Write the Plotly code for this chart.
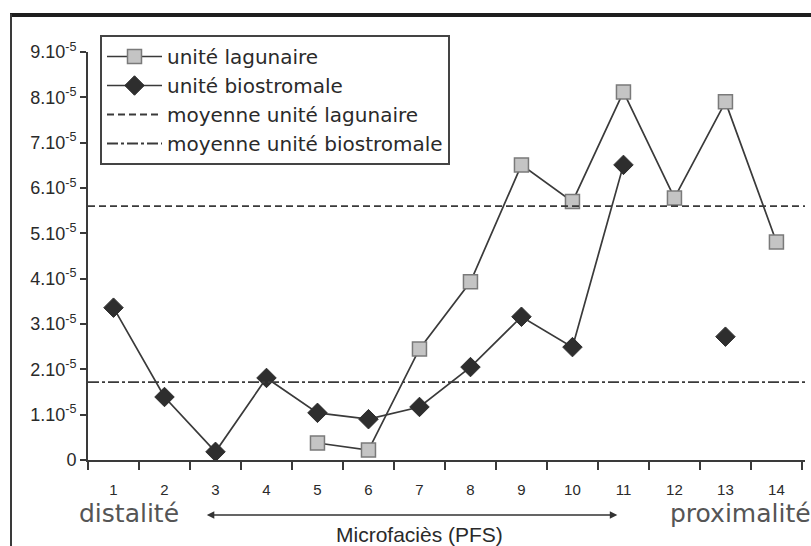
import plotly.graph_objects as go

# ---- data (values in units of 1e-5) ----
microfacies = list(range(1, 15))
lagunaire = [None, None, None, None, 0.375, 0.22, 2.45, 3.93, 6.51, 5.70, 8.12, 5.78, 7.90, 4.81]
biostromale = [3.36, 1.39, 0.18, 1.81, 1.04, 0.90, 1.17, 2.05, 3.16, 2.49, 6.51, None, 2.72, None]
moy_lagunaire = 5.60
moy_biostromale = 1.72
ytick_vals = list(range(0, 10))
ytick_text = ["0"] + [f"{v}.10<sup>-5</sup>" for v in range(1, 10)]

x_range = [0.5, 14.56]
y_range = [0, 9]

LINE = "#3a3a3a"
TXT = "#2a2a2a"
FONT = "Liberation Sans, Arial, sans-serif"
FONT2 = "DejaVu Sans, sans-serif"

fig = go.Figure()
fig.add_trace(go.Scatter(
    x=microfacies, y=lagunaire, name="unité lagunaire", mode="lines+markers",
    line=dict(color=LINE, width=1.7),
    marker=dict(symbol="square", size=14, color="#c4c4c4", line=dict(color="#7a7a7a", width=1.5)),
    legendgroup="a"))
fig.add_trace(go.Scatter(
    x=microfacies, y=biostromale, name="unité biostromale", mode="lines+markers",
    line=dict(color=LINE, width=1.7),
    marker=dict(symbol="diamond", size=15, color="#2e2e2e", line=dict(color="#2e2e2e", width=1)),
    legendgroup="b"))
fig.add_trace(go.Scatter(
    x=x_range, y=[moy_lagunaire] * 2, name="moyenne unité lagunaire", mode="lines",
    line=dict(color=LINE, width=1.8, dash="7px,4px"), legendgroup="c"))
fig.add_trace(go.Scatter(
    x=x_range, y=[moy_biostromale] * 2, name="moyenne unité biostromale", mode="lines",
    line=dict(color=LINE, width=1.8, dash="11px,3px,3px,3px"), legendgroup="d"))

W, H = 811, 546
L, R, T, B = 88, 6, 52, 86
pw, ph = W - L - R, H - T - B

def px_x(p):
    return (p - L) / pw

def px_y(p):
    return (H - B - p) / ph

fig.update_layout(
    width=W, height=H,
    margin=dict(l=L, r=R, t=T, b=B, pad=0, autoexpand=False),
    paper_bgcolor="white", plot_bgcolor="white",
    font=dict(family=FONT, color=TXT, size=15),
    showlegend=True,
    legend=dict(
        x=px_x(100), y=px_y(35), xanchor="left", yanchor="top",
        bordercolor="#444", borderwidth=2, bgcolor="white",
        font=dict(size=20, color=TXT, family=FONT2),
        tracegroupgap=0, traceorder="grouped",
        itemwidth=55,
    ),
    xaxis=dict(
        range=x_range, showgrid=False, zeroline=False, automargin=False,
        showline=True, linecolor=LINE, linewidth=2,
        tickmode="array", tickvals=microfacies, ticktext=[str(v) for v in microfacies],
        ticks="", ticklabelstandoff=15,
        tickfont=dict(size=15, color=TXT),
        minor=dict(ticks="outside", tick0=0.5, dtick=1, ticklen=8, tickcolor=LINE, tickwidth=1.5),
    ),
    yaxis=dict(
        range=y_range, showgrid=False, zeroline=False, automargin=False,
        showline=True, linecolor=LINE, linewidth=2,
        tickmode="array", tickvals=ytick_vals, ticktext=ytick_text,
        ticks="outside", ticklen=6, tickcolor=LINE, tickwidth=1.5,
        tickfont=dict(size=18, color=TXT),
    ),
)

# outer frame (top and left border of the scanned figure)
fig.add_shape(type="line", xref="paper", yref="paper",
              x0=px_x(10), x1=px_x(812), y0=px_y(15), y1=px_y(15),
              line=dict(color="#1e1e1e", width=4))
fig.add_shape(type="line", xref="paper", yref="paper",
              x0=px_x(11), x1=px_x(11), y0=px_y(14), y1=px_y(548),
              line=dict(color="#3a3a3a", width=2))

# bottom labels
fig.add_annotation(text="distalité", xref="paper", yref="paper", x=px_x(129), y=px_y(513),
                   xanchor="center", yanchor="middle",
                   showarrow=False, font=dict(size=25, color="#555", family=FONT2))
fig.add_annotation(text="proximalité", xref="paper", yref="paper", x=px_x(740), y=px_y(513),
                   xanchor="center", yanchor="middle",
                   showarrow=False, font=dict(size=25, color="#555", family=FONT2))
fig.add_annotation(text="Microfaciès (PFS)", xref="paper", yref="paper", x=px_x(419), y=px_y(534),
                   xanchor="center", yanchor="middle",
                   showarrow=False, font=dict(size=21, color=TXT, family=FONT))
fig.add_annotation(text="", xref="x", yref="paper", x=10.88, y=px_y(515),
                   axref="x", ayref="pixel", ax=2.80, ay=0,
                   showarrow=True, arrowhead=2, arrowside="end+start",
                   arrowsize=1, arrowwidth=1.5, arrowcolor="#333")

fig.write_html("out.html", config={"displayModeBar": False},
               post_script="document.body.style.margin='0';document.body.style.padding='0';")
